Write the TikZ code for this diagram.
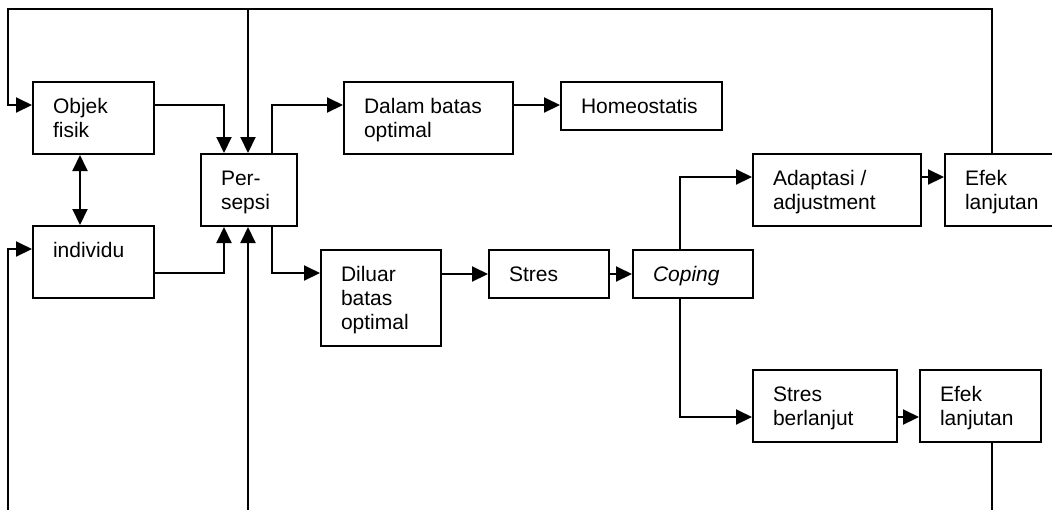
\documentclass[tikz,border=0pt]{standalone}
\usepackage{fontspec}
\setmainfont{Liberation Sans}
\usetikzlibrary{arrows.meta}
\newcommand{\boxtext}[3]{\parbox[t][#2][t]{#1}{\leftskip=10pt\rightskip=0pt plus 1fil\parindent=0pt\rule{0pt}{15.5pt}#3}}
\begin{document}
\begin{tikzpicture}[x=0.5pt, y=-0.5pt, line width=1pt,
            font=\fontsize{10.5pt}{12pt}\selectfont,
            box/.style={draw, rectangle, anchor=north west, inner sep=0pt},
            arr/.style={-{Triangle[length=8pt, width=7.5pt]}},
            dbl/.style={{Triangle[length=8pt, width=7.5pt]}-{Triangle[length=8pt, width=7.5pt]}}]
            \useasboundingbox (0,0) rectangle (1052,510);

            \node[box] (objek) at (32,81) {\boxtext{60.5pt}{36pt}{Objek\\fisik}};
            \node[box] (individu) at (32,225) {\boxtext{60.5pt}{36pt}{individu}};
            \node[box] (persepsi) at (200,153) {\boxtext{48pt}{36pt}{Per-\\sepsi}};

            \node[box] (dalam) at (343,81) {\boxtext{84.5pt}{36pt}{Dalam batas\\optimal}};
            \node[box] (homeo) at (560,81) {\boxtext{80.5pt}{24pt}{Homeostatis}};

            \node[box] (diluar) at (320,249) {\boxtext{60pt}{48pt}{Diluar\\batas\\optimal}};
            \node[box] (stres) at (488,249) {\boxtext{60pt}{24pt}{Stres}};
            \node[box] (coping) at (632,249) {\boxtext{60pt}{24pt}{\itshape Coping}};

            \node[box] (adaptasi) at (752,153) {\boxtext{84pt}{36pt}{Adaptasi /\\adjustment}};
            \node[box] (efekA) at (944,153) {\boxtext{60pt}{36pt}{Efek\\lanjutan}};
            \node[box] (berlanjut) at (752,369) {\boxtext{72pt}{36pt}{Stres\\berlanjut}};
            \node[box] (efekB) at (919,369) {\boxtext{60.5pt}{36pt}{Efek\\lanjutan}};

            \coordinate (topleft) at (8,9);
            \coordinate (botleft) at (8,510);
            \coordinate (botmid) at (248,510);
            \coordinate (botright) at (992,510);

            \draw[arr] ([xshift=24pt]efekA.north west) |- (topleft) |- ([yshift=-12pt]objek.north west);
            \draw[arr] ([xshift=24pt]persepsi.north west |- topleft) -- ([xshift=24pt]persepsi.north west);
            \draw[arr] (botleft) |- ([yshift=-12pt]individu.north west);
            \draw[arr] (botmid) -- ([xshift=24pt]persepsi.south west);

            \draw[arr] ([yshift=-12pt]objek.north east) -| ([xshift=12pt]persepsi.north west);
            \draw[arr] ([yshift=-24pt]individu.north east) -| ([xshift=12pt]persepsi.south west);
            \draw[dbl] ([xshift=24pt]objek.south west) -- ([xshift=24pt]individu.north west);

            \draw[arr] ([xshift=36pt]persepsi.north west) |- ([yshift=-12pt]dalam.north west);
            \draw[arr] ([yshift=-12pt]dalam.north east) -- ([yshift=-12pt]homeo.north west);
            \draw[arr] ([xshift=36pt]persepsi.south west) |- ([yshift=-12pt]diluar.north west);
            \draw[arr] (diluar.east |- stres.west) -- (stres.west);
            \draw[arr] (stres) -- (coping);

            \draw[arr] ([xshift=24pt]coping.north west) |- ([yshift=-12pt]adaptasi.north west);
            \draw[arr] ([xshift=24pt]coping.south west) |- ([yshift=-24pt]berlanjut.north west);
            \draw[arr] ([yshift=-12pt]adaptasi.north east) -- ([yshift=-12pt]efekA.north west);
            \draw[arr] ([yshift=-24pt]berlanjut.north east) -- ([yshift=-24pt]efekB.north west);
            \draw (botright |- efekB.south) -- (botright);
        \end{tikzpicture}
\end{document}
